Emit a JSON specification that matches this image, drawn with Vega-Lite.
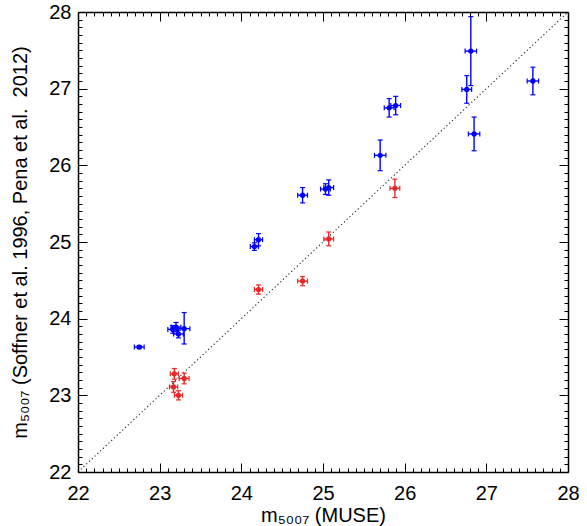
{
  "$schema": "https://vega.github.io/schema/vega-lite/v6.json",
  "width": 490,
  "height": 460,
  "autosize": {"type": "none"},
  "padding": {"left": 78, "top": 12, "right": 19, "bottom": 54},
  "background": "white",
  "config": {"view": {"stroke": null}},
  "datasets": {
    "diag": [{"x": 22, "y": 22}, {"x": 28, "y": 28}],
    "pts": [
      {"g":"b","x":22.75,"y":23.63,"xlo":22.69,"xhi":22.81,"ylo":23.61,"yhi":23.65},
      {"g":"b","x":23.16,"y":23.86,"xlo":23.10,"xhi":23.22,"ylo":23.81,"yhi":23.91},
      {"g":"b","x":23.20,"y":23.89,"xlo":23.14,"xhi":23.26,"ylo":23.83,"yhi":23.95},
      {"g":"b","x":23.23,"y":23.80,"xlo":23.17,"xhi":23.29,"ylo":23.75,"yhi":23.85},
      {"g":"b","x":23.30,"y":23.87,"xlo":23.23,"xhi":23.37,"ylo":23.67,"yhi":24.08},
      {"g":"b","x":24.16,"y":24.94,"xlo":24.11,"xhi":24.21,"ylo":24.89,"yhi":24.99},
      {"g":"b","x":24.21,"y":25.03,"xlo":24.16,"xhi":24.26,"ylo":24.95,"yhi":25.11},
      {"g":"b","x":24.75,"y":25.61,"xlo":24.69,"xhi":24.81,"ylo":25.51,"yhi":25.71},
      {"g":"b","x":25.03,"y":25.69,"xlo":24.97,"xhi":25.09,"ylo":25.62,"yhi":25.76},
      {"g":"b","x":25.07,"y":25.71,"xlo":25.01,"xhi":25.13,"ylo":25.61,"yhi":25.81},
      {"g":"b","x":25.70,"y":26.13,"xlo":25.63,"xhi":25.77,"ylo":25.93,"yhi":26.33},
      {"g":"b","x":25.81,"y":26.75,"xlo":25.75,"xhi":25.87,"ylo":26.63,"yhi":26.87},
      {"g":"b","x":25.89,"y":26.78,"xlo":25.83,"xhi":25.95,"ylo":26.66,"yhi":26.90},
      {"g":"b","x":26.76,"y":26.99,"xlo":26.70,"xhi":26.82,"ylo":26.81,"yhi":27.17},
      {"g":"b","x":26.81,"y":27.49,"xlo":26.74,"xhi":26.88,"ylo":27.04,"yhi":27.94},
      {"g":"b","x":26.85,"y":26.41,"xlo":26.78,"xhi":26.92,"ylo":26.19,"yhi":26.63},
      {"g":"b","x":27.57,"y":27.10,"xlo":27.50,"xhi":27.64,"ylo":26.92,"yhi":27.28},
      {"g":"r","x":23.18,"y":23.28,"xlo":23.13,"xhi":23.23,"ylo":23.21,"yhi":23.35},
      {"g":"r","x":23.30,"y":23.22,"xlo":23.24,"xhi":23.36,"ylo":23.15,"yhi":23.29},
      {"g":"r","x":23.17,"y":23.11,"xlo":23.12,"xhi":23.22,"ylo":23.04,"yhi":23.18},
      {"g":"r","x":23.23,"y":23.00,"xlo":23.18,"xhi":23.28,"ylo":22.94,"yhi":23.06},
      {"g":"r","x":24.21,"y":24.38,"xlo":24.16,"xhi":24.26,"ylo":24.32,"yhi":24.44},
      {"g":"r","x":24.75,"y":24.49,"xlo":24.69,"xhi":24.81,"ylo":24.43,"yhi":24.55},
      {"g":"r","x":25.07,"y":25.04,"xlo":25.01,"xhi":25.13,"ylo":24.95,"yhi":25.13},
      {"g":"r","x":25.88,"y":25.70,"xlo":25.82,"xhi":25.94,"ylo":25.58,"yhi":25.82}
    ]
  },
  "resolve": {"axis": {"x": "independent", "y": "independent"}},
  "layer": [
    {
      "data": {"name": "diag"},
      "mark": {"type": "line", "color": "#222", "strokeWidth": 1.1, "strokeDash": [1.2, 2.6]},
      "encoding": {
        "x": {"field": "x", "type": "quantitative",
          "scale": {"domain": [22, 28], "nice": false, "zero": false},
          "axis": {"orient": "bottom", "grid": false, "zindex": 1,
            "values": [22, 23, 24, 25, 26, 27, 28], "format": "d",
            "tickSize": -9, "tickColor": "black", "tickWidth": 1,
            "domainColor": "black", "domainWidth": 1.5,
            "labelFlush": false,
            "labelFont": "Liberation Sans", "labelFontSize": 20, "labelColor": "black", "labelPadding": 20,
            "title": "m₅₀₀₇ (MUSE)", "titleFont": "Liberation Sans", "titleFontSize": 20, "titleFontWeight": "normal", "titleColor": "black",
            "titlePadding": 2}},
        "y": {"field": "y", "type": "quantitative",
          "scale": {"domain": [22, 28], "nice": false, "zero": false},
          "axis": {"orient": "left", "grid": false, "zindex": 1,
            "values": [22, 23, 24, 25, 26, 27, 28], "format": "d",
            "tickSize": -9, "tickColor": "black", "tickWidth": 1,
            "domainColor": "black", "domainWidth": 1.5,
            "labelFlush": false,
            "labelFont": "Liberation Sans", "labelFontSize": 20, "labelColor": "black", "labelPadding": 16,
            "title": "m₅₀₀₇ (Soffner et al. 1996, Pena et al.\u00a0 2012)", "titleFont": "Liberation Sans", "titleFontSize": 20, "titleFontWeight": "normal", "titleColor": "black",
            "titlePadding": 18}}
      }
    },
    {
      "data": {"name": "diag"},
      "mark": {"type": "line", "opacity": 0},
      "encoding": {
        "x": {"field": "x", "type": "quantitative",
          "scale": {"domain": [22, 28], "nice": false, "zero": false},
          "axis": {"orient": "top", "grid": false, "zindex": 1, "labels": false, "title": null,
            "values": [22, 23, 24, 25, 26, 27, 28],
            "tickSize": -9, "tickColor": "black", "tickWidth": 1, "domainColor": "black", "domainWidth": 1.5}},
        "y": {"field": "y", "type": "quantitative",
          "scale": {"domain": [22, 28], "nice": false, "zero": false},
          "axis": {"orient": "right", "grid": false, "zindex": 1, "labels": false, "title": null,
            "values": [22, 23, 24, 25, 26, 27, 28],
            "tickSize": -9, "tickColor": "black", "tickWidth": 1, "domainColor": "black", "domainWidth": 1.5}}
      }
    },
    {
      "data": {"name": "diag"},
      "mark": {"type": "line", "opacity": 0},
      "encoding": {
        "x": {"field": "x", "type": "quantitative",
          "scale": {"domain": [22, 28], "nice": false, "zero": false},
          "axis": {"orient": "bottom", "grid": false, "zindex": 1, "labels": false, "title": null, "domain": false,
            "values": [22.1,22.2,22.3,22.4,22.5,22.6,22.7,22.8,22.9,23.1,23.2,23.3,23.4,23.5,23.6,23.7,23.8,23.9,24.1,24.2,24.3,24.4,24.5,24.6,24.7,24.8,24.9,25.1,25.2,25.3,25.4,25.5,25.6,25.7,25.8,25.9,26.1,26.2,26.3,26.4,26.5,26.6,26.7,26.8,26.9,27.1,27.2,27.3,27.4,27.5,27.6,27.7,27.8,27.9],
            "tickSize": -4, "tickColor": "black", "tickWidth": 1}},
        "y": {"field": "y", "type": "quantitative",
          "scale": {"domain": [22, 28], "nice": false, "zero": false},
          "axis": {"orient": "left", "grid": false, "zindex": 1, "labels": false, "title": null, "domain": false,
            "values": [22.1,22.2,22.3,22.4,22.5,22.6,22.7,22.8,22.9,23.1,23.2,23.3,23.4,23.5,23.6,23.7,23.8,23.9,24.1,24.2,24.3,24.4,24.5,24.6,24.7,24.8,24.9,25.1,25.2,25.3,25.4,25.5,25.6,25.7,25.8,25.9,26.1,26.2,26.3,26.4,26.5,26.6,26.7,26.8,26.9,27.1,27.2,27.3,27.4,27.5,27.6,27.7,27.8,27.9],
            "tickSize": -4, "tickColor": "black", "tickWidth": 1}}
      }
    },
    {
      "data": {"name": "diag"},
      "mark": {"type": "line", "opacity": 0},
      "encoding": {
        "x": {"field": "x", "type": "quantitative",
          "scale": {"domain": [22, 28], "nice": false, "zero": false},
          "axis": {"orient": "top", "grid": false, "zindex": 1, "labels": false, "title": null, "domain": false,
            "values": [22.1,22.2,22.3,22.4,22.5,22.6,22.7,22.8,22.9,23.1,23.2,23.3,23.4,23.5,23.6,23.7,23.8,23.9,24.1,24.2,24.3,24.4,24.5,24.6,24.7,24.8,24.9,25.1,25.2,25.3,25.4,25.5,25.6,25.7,25.8,25.9,26.1,26.2,26.3,26.4,26.5,26.6,26.7,26.8,26.9,27.1,27.2,27.3,27.4,27.5,27.6,27.7,27.8,27.9],
            "tickSize": -4, "tickColor": "black", "tickWidth": 1}},
        "y": {"field": "y", "type": "quantitative",
          "scale": {"domain": [22, 28], "nice": false, "zero": false},
          "axis": {"orient": "right", "grid": false, "zindex": 1, "labels": false, "title": null, "domain": false,
            "values": [22.1,22.2,22.3,22.4,22.5,22.6,22.7,22.8,22.9,23.1,23.2,23.3,23.4,23.5,23.6,23.7,23.8,23.9,24.1,24.2,24.3,24.4,24.5,24.6,24.7,24.8,24.9,25.1,25.2,25.3,25.4,25.5,25.6,25.7,25.8,25.9,26.1,26.2,26.3,26.4,26.5,26.6,26.7,26.8,26.9,27.1,27.2,27.3,27.4,27.5,27.6,27.7,27.8,27.9],
            "tickSize": -4, "tickColor": "black", "tickWidth": 1}}
      }
    },
    {
      "data": {"name": "pts"},
      "mark": {"type": "rule", "strokeWidth": 1.4},
      "encoding": {
        "x": {"field": "xlo", "type": "quantitative", "scale": {"domain": [22, 28], "nice": false, "zero": false}, "axis": null},
        "x2": {"field": "xhi"},
        "y": {"field": "y", "type": "quantitative", "scale": {"domain": [22, 28], "nice": false, "zero": false}, "axis": null},
        "color": {"field": "g", "type": "nominal", "scale": {"domain": ["b", "r"], "range": ["#0000ff", "#e82828"]}, "legend": null}
      }
    },
    {
      "data": {"name": "pts"},
      "mark": {"type": "rule", "strokeWidth": 1.4},
      "encoding": {
        "x": {"field": "x", "type": "quantitative", "scale": {"domain": [22, 28], "nice": false, "zero": false}, "axis": null},
        "y": {"field": "ylo", "type": "quantitative", "scale": {"domain": [22, 28], "nice": false, "zero": false}, "axis": null},
        "y2": {"field": "yhi"},
        "color": {"field": "g", "type": "nominal", "scale": {"domain": ["b", "r"], "range": ["#0000ff", "#e82828"]}, "legend": null}
      }
    },
    {
      "data": {"name": "pts"},
      "mark": {"type": "point", "shape": "M-1,0L1,0", "filled": false, "size": 25, "strokeWidth": 1.2, "opacity": 1},
      "encoding": {
        "x": {"field": "x", "type": "quantitative", "scale": {"domain": [22, 28], "nice": false, "zero": false}, "axis": null},
        "y": {"field": "ylo", "type": "quantitative", "scale": {"domain": [22, 28], "nice": false, "zero": false}, "axis": null},
        "color": {"field": "g", "type": "nominal", "scale": {"domain": ["b", "r"], "range": ["#0000ff", "#e82828"]}, "legend": null}
      }
    },
    {
      "data": {"name": "pts"},
      "mark": {"type": "point", "shape": "M-1,0L1,0", "filled": false, "size": 25, "strokeWidth": 1.2, "opacity": 1},
      "encoding": {
        "x": {"field": "x", "type": "quantitative", "scale": {"domain": [22, 28], "nice": false, "zero": false}, "axis": null},
        "y": {"field": "yhi", "type": "quantitative", "scale": {"domain": [22, 28], "nice": false, "zero": false}, "axis": null},
        "color": {"field": "g", "type": "nominal", "scale": {"domain": ["b", "r"], "range": ["#0000ff", "#e82828"]}, "legend": null}
      }
    },
    {
      "data": {"name": "pts"},
      "mark": {"type": "point", "shape": "M0,-1L0,1", "filled": false, "size": 25, "strokeWidth": 1.2, "opacity": 1},
      "encoding": {
        "x": {"field": "xlo", "type": "quantitative", "scale": {"domain": [22, 28], "nice": false, "zero": false}, "axis": null},
        "y": {"field": "y", "type": "quantitative", "scale": {"domain": [22, 28], "nice": false, "zero": false}, "axis": null},
        "color": {"field": "g", "type": "nominal", "scale": {"domain": ["b", "r"], "range": ["#0000ff", "#e82828"]}, "legend": null}
      }
    },
    {
      "data": {"name": "pts"},
      "mark": {"type": "point", "shape": "M0,-1L0,1", "filled": false, "size": 25, "strokeWidth": 1.2, "opacity": 1},
      "encoding": {
        "x": {"field": "xhi", "type": "quantitative", "scale": {"domain": [22, 28], "nice": false, "zero": false}, "axis": null},
        "y": {"field": "y", "type": "quantitative", "scale": {"domain": [22, 28], "nice": false, "zero": false}, "axis": null},
        "color": {"field": "g", "type": "nominal", "scale": {"domain": ["b", "r"], "range": ["#0000ff", "#e82828"]}, "legend": null}
      }
    },
    {
      "data": {"name": "pts"},
      "mark": {"type": "circle", "size": 28, "opacity": 1},
      "encoding": {
        "x": {"field": "x", "type": "quantitative", "scale": {"domain": [22, 28], "nice": false, "zero": false}, "axis": null},
        "y": {"field": "y", "type": "quantitative", "scale": {"domain": [22, 28], "nice": false, "zero": false}, "axis": null},
        "color": {"field": "g", "type": "nominal", "scale": {"domain": ["b", "r"], "range": ["#0000ff", "#e82828"]}, "legend": null}
      }
    }
  ]
}
